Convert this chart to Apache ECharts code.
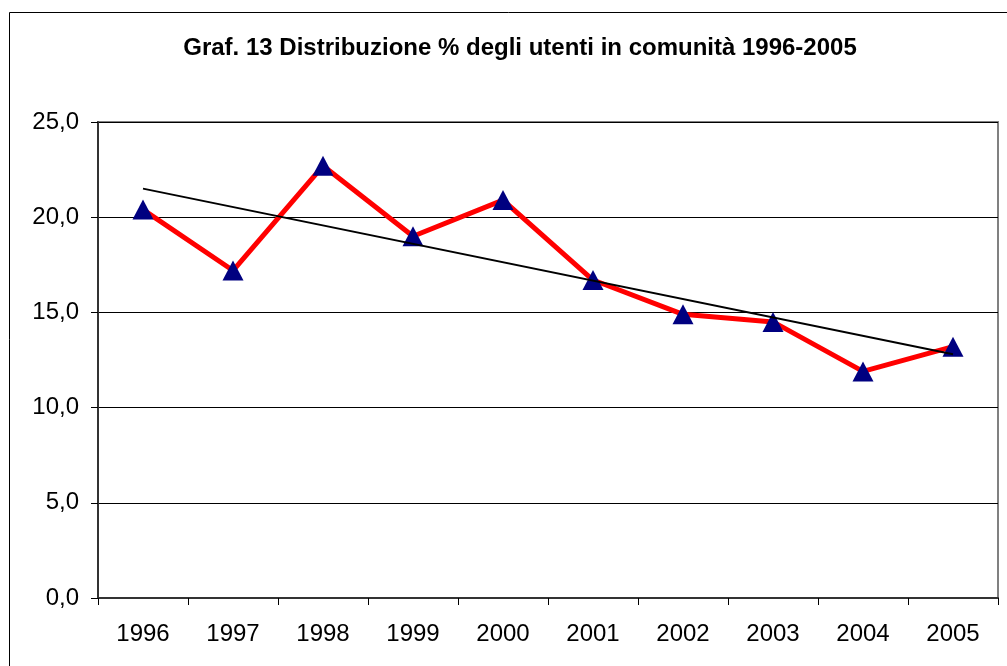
<!DOCTYPE html>
<html>
<head>
<meta charset="utf-8">
<script src="https://cdn.jsdelivr.net/npm/echarts@6/dist/echarts.min.js"></script>
<style>
  html, body { margin: 0; padding: 0; background: #fff; }
  #chart { width: 1007px; height: 666px; }
</style>
</head>
<body>
<div id="chart"></div>
<script>
const years = ["1996", "1997", "1998", "1999", "2000", "2001", "2002", "2003", "2004", "2005"];
const utenti = [20.4, 17.2, 22.7, 19.0, 20.9, 16.7, 14.9, 14.5, 11.9, 13.2];
// trend line ends (1996 and 2005)
const trend = [21.5, null, null, null, null, null, null, null, null, 12.8];

const myChart = echarts.init(document.getElementById("chart"));

const option = {
  animation: false,
  backgroundColor: "#fff",
  title: {
    text: "Graf. 13 Distribuzione % degli utenti in comunità 1996-2005",
    left: 515,
    textAlign: "center",
    top: 31,
    textStyle: {
      fontFamily: "Liberation Sans",
      fontSize: 24,
      fontWeight: "bold",
      color: "#000",
    },
  },
  graphic: [
    {
      type: "rect",
      shape: { x: 9.5, y: 12.5, width: 1100, height: 1000 },
      style: { fill: "none", stroke: "#000", lineWidth: 1 },
      z: 0,
    },
  ],
  grid: {
    left: 98,
    right: 9,
    top: 122,
    bottom: 68,
    show: true,
    borderColor: "#808080",
    borderWidth: 2,
  },
  xAxis: {
    type: "category",
    data: years,
    boundaryGap: true,
    axisLine: { lineStyle: { color: "#333", width: 2 } },
    axisTick: { show: true, length: 7, lineStyle: { color: "#000" } },
    axisLabel: {
      margin: 24,
      fontFamily: "Liberation Sans",
      fontSize: 24,
      color: "#000",
    },
    splitLine: { show: false },
  },
  yAxis: {
    type: "value",
    min: 0,
    max: 25,
    interval: 5,
    axisLine: { show: true, lineStyle: { color: "#333", width: 2 } },
    axisTick: { show: true, length: 7, lineStyle: { color: "#000" } },
    axisLabel: {
      margin: 19,
      fontFamily: "Liberation Sans",
      fontSize: 24,
      color: "#000",
      formatter: (v) => v.toFixed(1).replace(".", ","),
    },
    splitLine: { show: true, lineStyle: { color: "#000", width: 1 } },
  },
  series: [
    {
      name: "utenti",
      type: "line",
      data: utenti,
      symbol: "triangle",
      symbolSize: [21, 20],
      showAllSymbol: true,
      lineStyle: { color: "#ff0000", width: 5 },
      itemStyle: { color: "#000080" },
      z: 3,
    },
    {
      name: "tendenza",
      type: "line",
      data: trend,
      connectNulls: true,
      symbol: "none",
      lineStyle: { color: "#000", width: 2 },
      z: 4,
    },
  ],
};

myChart.setOption(option);
</script>
</body>
</html>
